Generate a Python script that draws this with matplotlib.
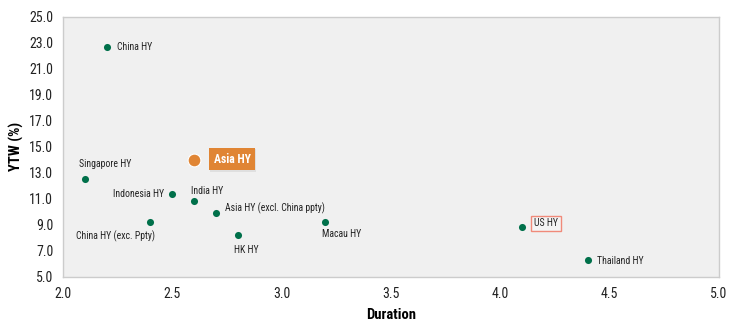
import matplotlib
matplotlib.use("Agg")
import matplotlib.pyplot as plt
import matplotlib.patheffects as pe

plt.rcParams["font.family"] = ["Roboto Condensed", "Roboto", "DejaVu Sans"]

# ── data ────────────────────────────────────────────────
names = ["China HY", "Singapore HY", "Indonesia HY", "India HY",
         "Asia HY (excl. China ppty)", "China HY (exc. Ppty)", "HK HY",
         "Macau HY", "US HY", "Thailand HY"]
duration = [2.2, 2.1, 2.5, 2.6, 2.7, 2.4, 2.8, 3.2, 4.1, 4.4]
ytw = [22.7, 12.5, 11.4, 10.8, 9.9, 9.2, 8.2, 9.2, 8.8, 6.3]

asia_name = "Asia HY"
asia_duration = 2.6
asia_ytw = 14.0

x_ticks = [2.0, 2.5, 3.0, 3.5, 4.0, 4.5, 5.0]
y_ticks = [5.0, 7.0, 9.0, 11.0, 13.0, 15.0, 17.0, 19.0, 21.0, 23.0, 25.0]

# label placement: (dx, dy) in pixels, horizontal alignment
label_pos = {
    "China HY": ((10, 0), "left"),
    "Singapore HY": ((-6, 15), "left"),
    "Indonesia HY": ((-8, 0), "right"),
    "India HY": ((-3, 11), "left"),
    "Asia HY (excl. China ppty)": ((9, 5), "left"),
    "China HY (exc. Ppty)": ((5, -14), "right"),
    "HK HY": ((-4, -15), "left"),
    "Macau HY": ((-3, -12), "left"),
    "US HY": ((12, 4), "left"),
    "Thailand HY": ((9, -1), "left"),
}

GREEN = "#00704a"
ORANGE = "#e08534"

fig = plt.figure(figsize=(7.37, 3.25), dpi=100)
ax = fig.add_axes([0.0855, 0.148, 0.89, 0.80])
ax.set_facecolor("#f0f0f0")
for s in ax.spines.values():
    s.set_color("#cccccc")
    s.set_linewidth(1.0)

ax.scatter(duration, ytw, s=26, color=GREEN, zorder=3, linewidths=0)
ax.scatter([asia_duration], [asia_ytw], s=85, color=ORANGE, zorder=4,
           edgecolors="white", linewidths=0.8)

for n, x, y in zip(names, duration, ytw):
    (dx, dy), ha = label_pos[n]
    kw = {}
    if n == "US HY":
        kw["bbox"] = dict(boxstyle="square,pad=0.3", fc="#f4f4f4",
                          ec="#f08a7a", lw=1.0)
    ax.annotate(n, (x, y), xytext=(dx * 0.72, dy * 0.72),
                textcoords="offset points", ha=ha, va="center",
                fontsize=7, color="#222222", zorder=5, **kw)

ax.annotate(asia_name, (asia_duration, asia_ytw), xytext=(14, 0.5),
            textcoords="offset points", ha="left", va="center",
            fontsize=8.5, fontweight="bold", color="white", zorder=5,
            bbox=dict(boxstyle="square,pad=0.4", fc=ORANGE, ec="none",
                      path_effects=[pe.withSimplePatchShadow(offset=(0.8, -0.8),
                                                             shadow_rgbFace="#d0d0d0",
                                                             alpha=0.5)]))

ax.set_xlim(2.0, 5.0)
ax.set_ylim(5.0, 25.0)
ax.set_xticks(x_ticks)
ax.set_yticks(y_ticks)
ax.set_xticklabels([f"{v:.1f}" for v in x_ticks])
ax.set_yticklabels([f"{v:.1f}" for v in y_ticks])
ax.tick_params(length=0, labelsize=10, colors="#222222", pad=7)

ax.set_xlabel("Duration", fontsize=10.5, fontweight="bold", labelpad=5)
ax.set_ylabel("YTW (%)", fontsize=10.5, fontweight="bold", labelpad=4)

fig.savefig("out.png", dpi=100)
